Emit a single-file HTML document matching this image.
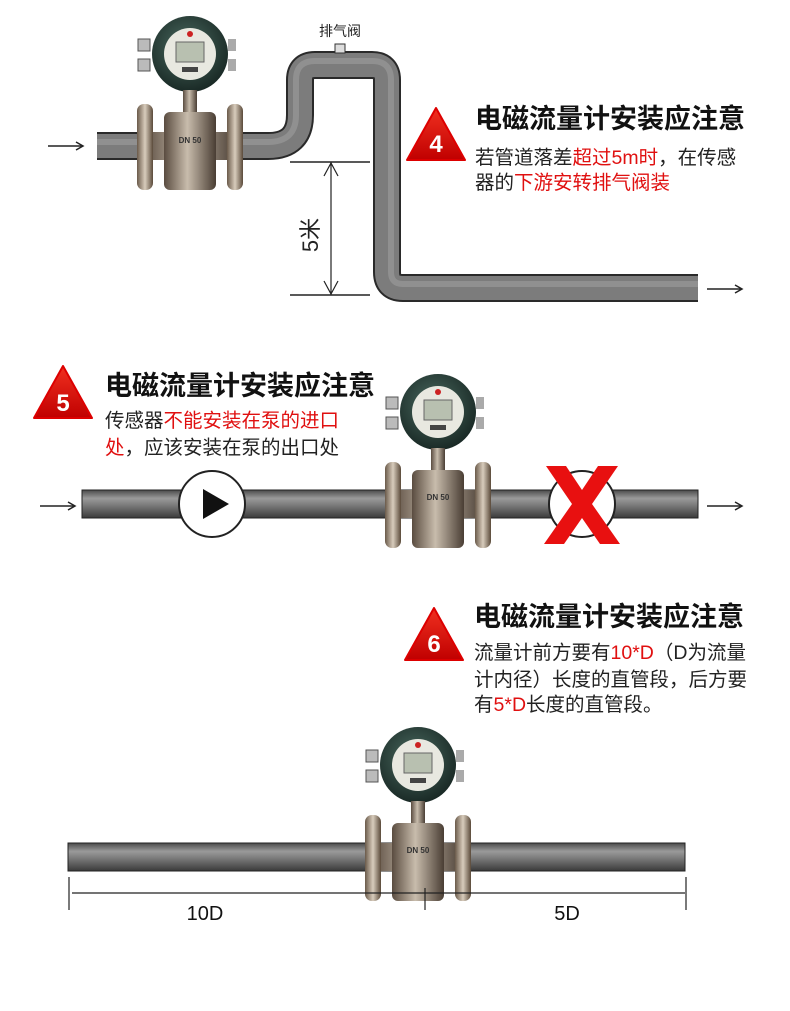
<!DOCTYPE html>
<html><head><meta charset="utf-8"><style>
html,body{margin:0;padding:0;background:#fff;}
svg{display:block;font-family:"Liberation Sans","Noto Sans CJK SC",sans-serif;}
.t{font-weight:bold;font-size:27px;fill:#111;}
.b{font-size:19.5px;fill:#222;}
.r{fill:#e01010;}
</style></head><body>
<svg width="790" height="1011" viewBox="0 0 790 1011" xmlns="http://www.w3.org/2000/svg">
<defs>
<linearGradient id="pg" x1="0" y1="0" x2="0" y2="1">
<stop offset="0" stop-color="#4a4a4a"/><stop offset="0.3" stop-color="#9a9a9a"/><stop offset="0.55" stop-color="#7a7a7a"/><stop offset="1" stop-color="#3a3a3a"/></linearGradient>
<linearGradient id="fl" x1="0" y1="0" x2="1" y2="0">
<stop offset="0" stop-color="#6a5a4a"/><stop offset="0.5" stop-color="#d8ccbc"/><stop offset="1" stop-color="#5a4a3a"/></linearGradient>
<linearGradient id="bd" x1="0" y1="0" x2="1" y2="0">
<stop offset="0" stop-color="#5a4c40"/><stop offset="0.45" stop-color="#c8bcac"/><stop offset="1" stop-color="#4a3e34"/></linearGradient>
<radialGradient id="hd" cx="0.45" cy="0.4" r="0.6"><stop offset="0" stop-color="#4a6a60"/><stop offset="1" stop-color="#1a2a26"/></radialGradient>
<linearGradient id="tri" x1="0" y1="0" x2="0" y2="1"><stop offset="0" stop-color="#f03020"/><stop offset="1" stop-color="#c00000"/></linearGradient>
<g id="meter">
<rect x="-52" y="-107" width="12" height="12" fill="#bbb" stroke="#555"/>
<rect x="-52" y="-87" width="12" height="12" fill="#bbb" stroke="#555"/>
<rect x="38" y="-107" width="8" height="12" fill="#aaa"/>
<rect x="38" y="-87" width="8" height="12" fill="#aaa"/>
<circle cx="0" cy="-92" r="38" fill="url(#hd)"/>
<circle cx="0" cy="-92" r="26" fill="#e8e8e0"/>
<rect x="-14" y="-104" width="28" height="20" fill="#b8c0b0" stroke="#666"/>
<rect x="-8" y="-79" width="16" height="5" fill="#444"/>
<circle cx="0" cy="-112" r="3" fill="#c22"/>
<rect x="-7" y="-56" width="14" height="24" fill="url(#bd)"/>
<rect x="-46" y="-14" width="92" height="28" fill="url(#bd)"/>
<rect x="-26" y="-34" width="52" height="78" rx="6" fill="url(#bd)"/>
<rect x="-53" y="-42" width="16" height="86" rx="7" fill="url(#fl)"/>
<rect x="37" y="-42" width="16" height="86" rx="7" fill="url(#fl)"/>
</g>
<g id="arrow"><line x1="0" y1="0" x2="34" y2="0" stroke="#222" stroke-width="1.5"/><path d="M28,-4 L35,0 L28,4" fill="none" stroke="#222" stroke-width="1.5"/></g>
</defs>

<!-- Section 4 pipe -->
<path d="M97,146 L268,146 Q300,146 300,115 L300,80 Q300,65 315,65 L372,65 Q387,65 387,80 L387,272 Q387,288 403,288 L698,288" fill="none" stroke="#2a2a2a" stroke-width="28"/>
<path d="M97,146 L268,146 Q300,146 300,115 L300,80 Q300,65 315,65 L372,65 Q387,65 387,80 L387,272 Q387,288 403,288 L698,288" fill="none" stroke="#7c7c7c" stroke-width="24"/>
<path d="M97,142 L268,142 Q296,142 296,115 L296,80 Q296,61 315,61 L372,61 Q391,61 391,80 L391,272 Q391,284 403,284 L698,284" fill="none" stroke="#9e9e9e" stroke-width="6" opacity="0.6"/>
<rect x="335" y="44" width="10" height="9" fill="#ddd" stroke="#333"/>
<text x="340" y="36" font-size="14" text-anchor="middle" fill="#222">排气阀</text>
<use href="#meter" x="190" y="146"/>
<text x="190" y="143" font-size="8" font-weight="bold" text-anchor="middle" fill="#333">DN 50</text>
<use href="#arrow" x="48" y="146"/>
<use href="#arrow" x="707" y="289"/>
<line x1="290" y1="162" x2="370" y2="162" stroke="#222" stroke-width="1.5"/>
<line x1="290" y1="295" x2="370" y2="295" stroke="#222" stroke-width="1.5"/>
<line x1="331" y1="162" x2="331" y2="295" stroke="#222" stroke-width="1.2"/>
<path d="M324,176 L331,163 L338,176 M324,281 L331,294 L338,281" fill="none" stroke="#222" stroke-width="1.2"/>
<text x="0" y="0" font-size="22" fill="#222" transform="translate(318,235) rotate(-90)" text-anchor="middle">5米</text>
<path d="M436,108 L465,160 L407,160 Z" fill="url(#tri)" stroke="#d00" stroke-width="2" stroke-linejoin="round"/>
<text x="436" y="152" font-size="24" font-weight="bold" fill="#fff" text-anchor="middle">4</text>
<text x="475" y="128" class="t">电磁流量计安装应注意</text>
<text x="475" y="164" class="b">若管道落差<tspan class="r">超过5m时</tspan>，在传感</text>
<text x="475" y="189" class="b">器的<tspan class="r">下游安转排气阀装</tspan></text>

<!-- Section 5 -->
<path d="M63,366 L92,418 L34,418 Z" fill="url(#tri)" stroke="#d00" stroke-width="2" stroke-linejoin="round"/>
<text x="63" y="411" font-size="24" font-weight="bold" fill="#fff" text-anchor="middle">5</text>
<text x="105" y="395" class="t">电磁流量计安装应注意</text>
<text x="105" y="427" class="b">传感器<tspan class="r">不能安装在泵的进口</tspan></text>
<text x="105" y="454" class="b"><tspan class="r">处</tspan>，应该安装在泵的出口处</text>
<rect x="82" y="490" width="616" height="28" fill="url(#pg)" stroke="#222" stroke-width="1"/>
<circle cx="212" cy="504" r="33" fill="#fff" stroke="#222" stroke-width="2"/>
<path d="M203,489 L229,504 L203,519 Z" fill="#111"/>
<use href="#meter" x="438" y="504"/>
<text x="438" y="500" font-size="8" font-weight="bold" text-anchor="middle" fill="#333">DN 50</text>
<circle cx="582" cy="504" r="33" fill="#fff" stroke="#222" stroke-width="2"/>
<path d="M546,466 L566,466 L582,490 L598,466 L618,466 L592,504 L620,544 L600,544 L582,518 L564,544 L544,544 L572,504 Z" fill="#e81010"/>
<use href="#arrow" x="40" y="506"/>
<use href="#arrow" x="707" y="506"/>

<!-- Section 6 -->
<path d="M434,608 L463,660 L405,660 Z" fill="url(#tri)" stroke="#d00" stroke-width="2" stroke-linejoin="round"/>
<text x="434" y="652" font-size="24" font-weight="bold" fill="#fff" text-anchor="middle">6</text>
<text x="474" y="626" class="t">电磁流量计安装应注意</text>
<text x="474" y="659" class="b">流量计前方要有<tspan class="r">10*D</tspan>（D为流量</text>
<text x="474" y="686" class="b">计内径）长度的直管段，后方要</text>
<text x="474" y="711" class="b">有<tspan class="r">5*D</tspan>长度的直管段。</text>
<rect x="68" y="843" width="617" height="28" fill="url(#pg)" stroke="#222" stroke-width="1"/>
<use href="#meter" x="418" y="857"/>
<text x="418" y="853" font-size="8" font-weight="bold" text-anchor="middle" fill="#333">DN 50</text>
<line x1="72" y1="893" x2="685" y2="893" stroke="#222" stroke-width="1.2"/>
<line x1="69" y1="877" x2="69" y2="910" stroke="#222" stroke-width="1.2"/>
<line x1="425" y1="888" x2="425" y2="910" stroke="#222" stroke-width="1.2"/>
<line x1="686" y1="877" x2="686" y2="910" stroke="#222" stroke-width="1.2"/>
<text x="205" y="920" font-size="20" text-anchor="middle" fill="#111">10D</text>
<text x="567" y="920" font-size="20" text-anchor="middle" fill="#111">5D</text>
</svg>
</body></html>
